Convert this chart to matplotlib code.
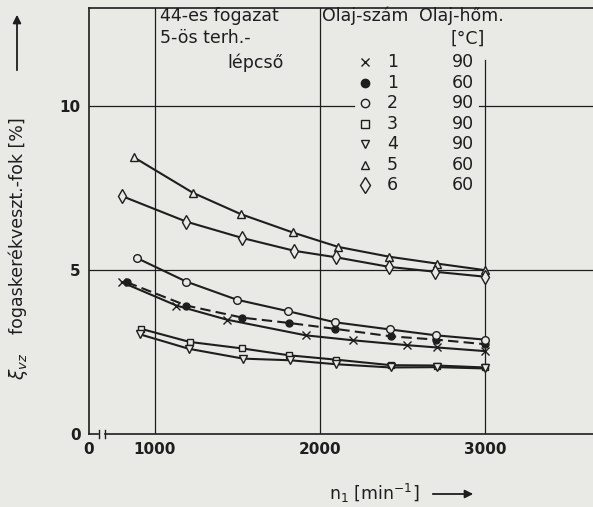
import numpy as np
import matplotlib.pyplot as plt

# speed n1 [1/min] and loss ratio [%] per oil / temperature
n_x90 = [800, 1130, 1435, 1915, 2200, 2530, 2710, 3000]
v_x90 = [4.63, 3.92, 3.49, 3.01, 2.86, 2.71, 2.64, 2.53]
n_d60 = [830, 1190, 1530, 1810, 2090, 2430, 2705, 3000]
v_d60 = [4.63, 3.92, 3.55, 3.39, 3.21, 2.98, 2.88, 2.74]
n_o90 = [890, 1190, 1495, 1805, 2090, 2425, 2705, 3000]
v_o90 = [5.37, 4.65, 4.10, 3.75, 3.41, 3.19, 3.01, 2.88]
n_s90 = [915, 1210, 1530, 1815, 2095, 2430, 2710, 3000]
v_s90 = [3.21, 2.81, 2.61, 2.40, 2.27, 2.10, 2.09, 2.03]
n_v90 = [910, 1205, 1535, 1820, 2095, 2430, 2710, 3000]
v_v90 = [3.04, 2.60, 2.30, 2.25, 2.13, 2.03, 2.04, 2.00]
n_t60 = [870, 1230, 1520, 1835, 2110, 2420, 2710, 3000]
v_t60 = [8.45, 7.36, 6.71, 6.15, 5.71, 5.41, 5.20, 5.00]
n_q60 = [800, 1190, 1530, 1845, 2100, 2420, 2700, 3000]
v_q60 = [7.26, 6.48, 5.98, 5.59, 5.39, 5.10, 4.95, 4.80]

oil_no = ['1', '1', '2', '3', '4', '5', '6']
oil_temp = ['90', '60', '90', '90', '90', '60', '60']

paper = '#e9e9e5'
ink = '#1e1e1e'

fig = plt.figure(figsize=(5.93, 5.07), dpi=100, facecolor=paper)
ax = fig.add_axes([89/593, 73/507, 504/593, 426/507], facecolor=paper)
ax.set_xlim(600, 3655)
ax.set_ylim(0, 13)

ax.spines['right'].set_visible(False)
ax.spines['bottom'].set_visible(False)
for s in ['left', 'top']:
    ax.spines[s].set_color(ink)
    ax.spines[s].set_linewidth(1.2)

# broken x axis baseline
ax.plot([600, 655], [0, 0], color=ink, lw=1.2, clip_on=False)
ax.plot([700, 3655], [0, 0], color=ink, lw=1.2, clip_on=False)
for xb in [660, 695]:
    ax.plot([xb, xb], [-0.12, 0.12], color=ink, lw=1.0, clip_on=False)

# grid
gkw = dict(color=ink, lw=0.9, zorder=1)
ax.plot([1000, 1000], [0, 13], **gkw)
ax.plot([2000, 2000], [0, 13], **gkw)
ax.plot([3000, 3000], [0, 11.4], **gkw)
ax.plot([600, 3655], [5, 5], **gkw)
ax.plot([600, 2205], [10, 10], **gkw)
ax.plot([2965, 3655], [10, 10], **gkw)

ax.set_xticks([600, 1000, 2000, 3000])
ax.set_xticklabels(['0', '1000', '2000', '3000'])
ax.set_yticks([0, 5, 10])
ax.set_yticklabels(['0', '5', '10'])
ax.tick_params(length=0, labelsize=11, colors=ink, pad=6)
for lab in ax.get_xticklabels() + ax.get_yticklabels():
    lab.set_fontweight('bold')

mkw = dict(color=ink, lw=1.5, markersize=5.5, markeredgewidth=1.0,
           markerfacecolor=paper, markeredgecolor=ink, zorder=3)
ax.plot(n_x90, v_x90, marker='x', **mkw)
ax.plot(n_d60, v_d60, marker='o', ls=(0, (5, 2.5)),
        **{**mkw, 'markerfacecolor': ink, 'markersize': 5})
ax.plot(n_o90, v_o90, marker='o', **mkw)
ax.plot(n_s90, v_s90, marker='s', **{**mkw, 'markersize': 5})
ax.plot(n_v90, v_v90, marker='v', **mkw)
ax.plot(n_t60, v_t60, marker='^', **mkw)
ax.plot(n_q60, v_q60, marker='d', **{**mkw, 'markersize': 7.5})

# header texts
tkw = dict(fontsize=12.5, color=ink)
ax.text(1030, 12.77, '44-es fogazat', va='center', **tkw)
ax.text(1030, 12.07, '5-ös terh.-', va='center', **tkw)
ax.text(1780, 11.34, 'lépcső', va='center', ha='right', **tkw)
ax.text(2015, 12.77, 'Olaj-szám', va='center', **tkw)
ax.text(2600, 12.77, 'Olaj-hőm.', va='center', **tkw)
ax.text(2790, 12.07, '[°C]', va='center', **tkw)

markers = ['x', 'o', 'o', 's', 'v', '^', 'd']
for i in range(7):
    yy = 11.34 - 0.625 * i
    face = ink if i == 1 else paper
    ms = 8 if markers[i] == 'd' else 6
    ax.plot([2275], [yy], marker=markers[i], color=ink, markersize=ms,
            markerfacecolor=face, markeredgewidth=1.0, ls='none')
    ax.text(2440, yy, oil_no[i], ha='center', va='center', **tkw)
    ax.text(2935, yy, oil_temp[i], ha='right', va='center', **tkw)

# axis labels with arrows
fig.text(18/593, 1 - 226/507, 'fogaskerékveszt.-fok [%]', rotation=90,
         ha='center', va='center', fontsize=12.5, color=ink)
fig.text(18/593, 1 - 366/507, r'$\xi_{vz}$', rotation=90,
         ha='center', va='center', fontsize=13.5, color=ink)
fig.patches.append(plt.matplotlib.patches.FancyArrowPatch(
    (17/593, 1 - 73/507), (17/593, 1 - 12/507), transform=fig.transFigure,
    arrowstyle='-|>', mutation_scale=12, color=ink, lw=1.3))

fig.text(374/593, 1 - 493/507, r'n$_1$ [min$^{-1}$]', ha='center', va='center',
         fontsize=12.5, color=ink)
fig.patches.append(plt.matplotlib.patches.FancyArrowPatch(
    (430/593, 1 - 494/507), (476/593, 1 - 494/507), transform=fig.transFigure,
    arrowstyle='-|>', mutation_scale=12, color=ink, lw=1.3))

fig.savefig('out.png', dpi=100, facecolor=paper)
